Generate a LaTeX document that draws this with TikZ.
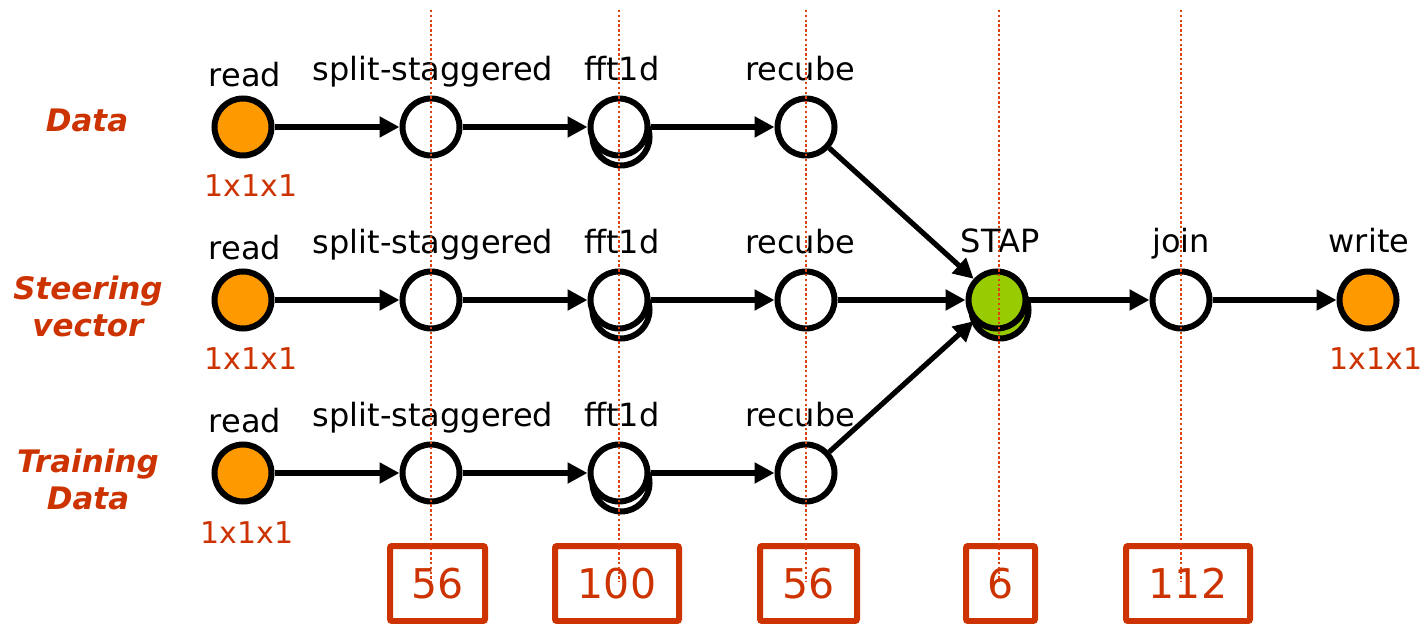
\documentclass[tikz,border=0pt]{standalone}
\usepackage{fontspec}
\setmainfont{DejaVu Sans}
\usetikzlibrary{arrows.meta}
\definecolor{orng}{HTML}{FF9900}
\definecolor{grn}{HTML}{99CC00}
\definecolor{rust}{HTML}{CC3300}
\definecolor{dotred}{HTML}{E0400F}
\tikzset{
  proc/.style={circle, draw=black, line width=3pt, minimum size=28.5pt, inner sep=0pt, outer sep=1.5pt, fill=white},
  io/.style={proc, fill=orng},
  core/.style={proc, fill=grn},
  lbl/.style={anchor=base, inner sep=0pt, font=\fontsize{16}{19}\selectfont},
  dim/.style={anchor=base, inner sep=0pt, text=rust, font=\fontsize{15}{18}\selectfont},
  rowlbl/.style={align=center, inner sep=0pt, text=rust, font=\fontsize{15.5}{18.5}\selectfont\bfseries\itshape},
  flow/.style={-{Triangle[length=10pt,width=10pt]}, line width=2.6pt, draw=black},
  guide/.style={draw=dotred, line width=1.3pt, dash pattern=on 1.2pt off 1.2pt},
  countbox/.style={draw=rust, line width=3pt, rounded corners=1pt, inner sep=0pt, text=rust, font=\fontsize{20.5}{24}\selectfont}
}
\begin{document}
\begin{tikzpicture}[x=0.5pt,y=-0.5pt]
\useasboundingbox (0,0) rectangle (1428,624);

% row labels
\node[rowlbl] (lD) at (87,120) {Data};
\node[rowlbl] (lS) at (88,306) {Steering\\vector};
\node[rowlbl] (lT) at (88,479) {Training\\Data};

% back (stacked) circles
\node[proc] (f1b) at (621,137) {};
\node[proc] (f2b) at (621,310) {};
\node[proc] (f3b) at (621,483) {};
\node[core] (stapb) at (1000,310) {};

% row 1
\node[io] (r1) at (243,127) {};
\node[proc] (s1) at (431,127) {};
\node[proc] (f1) at (619,127) {};
\node[proc] (c1) at (806,127) {};
% row 2
\node[io] (r2) at (243,300) {};
\node[proc] (s2) at (431,300) {};
\node[proc] (f2) at (619,300) {};
\node[proc] (c2) at (806,300) {};
\node[core] (stap) at (997,300) {};
\node[proc] (join) at (1181,300) {};
\node[io] (write) at (1368,300) {};
% row 3
\node[io] (r3) at (243,473) {};
\node[proc] (s3) at (431,473) {};
\node[proc] (f3) at (619,473) {};
\node[proc] (c3) at (806,473) {};

% connectors
\draw[flow] (r1) -- (s1);
\draw[flow] (s1) -- (f1);
\draw[flow] (f1) -- (c1);
\draw[flow] (r2) -- (s2);
\draw[flow] (s2) -- (f2);
\draw[flow] (f2) -- (c2);
\draw[flow] (r3) -- (s3);
\draw[flow] (s3) -- (f3);
\draw[flow] (f3) -- (c3);
\draw[flow] (c1) -- (stap);
\draw[flow] (c2) -- (stap);
\draw[flow] (c3) -- (stap);
\draw[flow] (stap) -- (join);
\draw[flow] (join) -- (write);

% node labels
\node[lbl] (tr1) at (245,87) {read};
\node[lbl] (ts1) at (433,81) {split-staggered};
\node[lbl] (tf1) at (622,81) {fft1d};
\node[lbl] (tc1) at (800,81) {recube};
\node[lbl] (tr2) at (245,260) {read};
\node[lbl] (ts2) at (433,254) {split-staggered};
\node[lbl] (tf2) at (622,254) {fft1d};
\node[lbl] (tc2) at (800,254) {recube};
\node[lbl] (tstap) at (1000,253) {STAP};
\node[lbl] (tjoin) at (1181,253) {join};
\node[lbl] (twrite) at (1369,253) {write};
\node[lbl] (tr3) at (245,433) {read};
\node[lbl] (ts3) at (433,427) {split-staggered};
\node[lbl] (tf3) at (622,427) {fft1d};
\node[lbl] (tc3) at (800,427) {recube};

% dimensions
\node[dim] (d1) at (251,197) {1x1x1};
\node[dim] (d2) at (251,370) {1x1x1};
\node[dim] (d3) at (247,543) {1x1x1};
\node[dim] (d4) at (1376,370) {1x1x1};

% count boxes
\node[countbox, minimum width=47.5pt, minimum height=37.5pt] (b1) at (437.5,583.5) {56};
\node[countbox, minimum width=62pt, minimum height=37.5pt] (b2) at (617,583.5) {100};
\node[countbox, minimum width=48.5pt, minimum height=37.5pt] (b3) at (808.5,583.5) {56};
\node[countbox, minimum width=34.5pt, minimum height=37.5pt] (b4) at (1000.5,583.5) {6};
\node[countbox, minimum width=62pt, minimum height=37.5pt] (b5) at (1188,583.5) {112};

% dotted guides
\foreach \x/\n in {431/g1,619/g2,806/g3,999/g4,1181/g5}{
  \coordinate (\n t) at (\x,10);
  \coordinate (\n b) at (\x,582);
  \draw[guide] (\n t) -- (\n b);
}
\end{tikzpicture}
\end{document}
